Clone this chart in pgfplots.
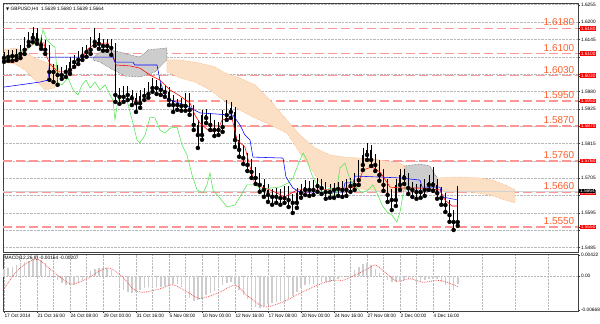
\documentclass[border=0pt]{standalone}
\usepackage{fontspec}
\setmainfont{Liberation Sans}
\newfontfamily\dejavu{DejaVu Sans}
\usepackage{pgfplots}
\usepackage{pgfplotstable}
\pgfplotsset{compat=1.18}
\definecolor{lvl}{RGB}{255,150,150}
\definecolor{lvltxt}{RGB}{255,95,45}
\definecolor{sandy}{RGB}{244,164,96}
\definecolor{cloudup}{RGB}{252,224,198}
\definecolor{clouddn}{RGB}{205,205,205}
\definecolor{gridc}{RGB}{185,185,185}
\definecolor{chik}{RGB}{80,230,80}
\definecolor{histc}{RGB}{205,205,205}
\definecolor{sigc}{RGB}{240,90,90}

\pgfplotstableread{
x o h l c
0 1.6086 1.6105 1.6074 1.6089
2 1.6089 1.6111 1.6077 1.6096
4 1.6096 1.6111 1.6077 1.6092
6 1.6092 1.6114 1.6080 1.6099
8 1.6099 1.6127 1.6086 1.6112
10 1.6112 1.6152 1.6099 1.6137
12 1.6137 1.6168 1.6125 1.6150
14 1.6150 1.6184 1.6137 1.6165
16 1.6165 1.6181 1.6131 1.6143
18 1.6143 1.6159 1.6115 1.6127
20 1.6127 1.6143 1.6099 1.6112
22 1.6112 1.6127 1.6017 1.6042
24 1.6042 1.6067 1.6010 1.6048
26 1.6048 1.6064 1.6001 1.6032
28 1.6032 1.6057 1.6020 1.6042
30 1.6042 1.6064 1.6026 1.6048
32 1.6048 1.6089 1.6036 1.6073
34 1.6073 1.6095 1.6058 1.6080
36 1.6080 1.6108 1.6067 1.6092
38 1.6092 1.6121 1.6080 1.6105
40 1.6105 1.6127 1.6090 1.6112
42 1.6112 1.6152 1.6099 1.6137
44 1.6137 1.6181 1.6125 1.6150
46 1.6150 1.6165 1.6115 1.6131
48 1.6131 1.6146 1.6109 1.6124
50 1.6124 1.6146 1.6109 1.6131
52 1.6131 1.6146 1.6096 1.6118
54 1.6118 1.6133 1.5947 1.5969
56 1.5969 1.5991 1.5941 1.5963
58 1.5963 1.5997 1.5947 1.5978
60 1.5978 1.5997 1.5953 1.5969
62 1.5969 1.5984 1.5937 1.5959
64 1.5959 1.5975 1.5915 1.5943
66 1.5943 1.5984 1.5928 1.5966
68 1.5966 1.5991 1.5953 1.5972
70 1.5972 1.6010 1.5960 1.5991
72 1.5991 1.6022 1.5979 1.6001
74 1.6001 1.6016 1.5972 1.5991
76 1.5991 1.6007 1.5969 1.5985
78 1.5985 1.6000 1.5963 1.5978
80 1.5978 1.5994 1.5937 1.5953
82 1.5953 1.5969 1.5915 1.5937
84 1.5937 1.5956 1.5922 1.5940
86 1.5940 1.5959 1.5919 1.5934
88 1.5934 1.5975 1.5919 1.5959
90 1.5959 1.5975 1.5906 1.5921
92 1.5921 1.5937 1.5858 1.5874
94 1.5874 1.5889 1.5801 1.5842
96 1.5842 1.5921 1.5827 1.5905
98 1.5905 1.5924 1.5880 1.5896
100 1.5896 1.5911 1.5858 1.5874
102 1.5874 1.5889 1.5839 1.5858
104 1.5858 1.5883 1.5842 1.5867
106 1.5867 1.5921 1.5852 1.5905
108 1.5905 1.5953 1.5890 1.5928
110 1.5928 1.5946 1.5896 1.5915
112 1.5915 1.5931 1.5804 1.5826
114 1.5826 1.5845 1.5773 1.5795
116 1.5795 1.5810 1.5750 1.5769
118 1.5769 1.5785 1.5728 1.5747
120 1.5747 1.5766 1.5706 1.5725
122 1.5725 1.5740 1.5687 1.5706
124 1.5706 1.5721 1.5662 1.5684
126 1.5684 1.5702 1.5646 1.5668
128 1.5668 1.5686 1.5630 1.5652
130 1.5652 1.5671 1.5621 1.5646
132 1.5646 1.5674 1.5627 1.5652
134 1.5652 1.5671 1.5621 1.5642
136 1.5642 1.5680 1.5627 1.5661
138 1.5661 1.5680 1.5614 1.5636
140 1.5636 1.5655 1.5595 1.5627
142 1.5627 1.5674 1.5611 1.5658
144 1.5658 1.5686 1.5643 1.5668
146 1.5668 1.5699 1.5652 1.5677
148 1.5677 1.5696 1.5649 1.5668
150 1.5668 1.5699 1.5652 1.5680
152 1.5680 1.5705 1.5662 1.5684
154 1.5684 1.5702 1.5655 1.5674
156 1.5674 1.5693 1.5640 1.5661
158 1.5661 1.5686 1.5643 1.5668
160 1.5668 1.5690 1.5643 1.5671
162 1.5671 1.5693 1.5649 1.5674
164 1.5674 1.5696 1.5646 1.5668
166 1.5668 1.5702 1.5649 1.5680
168 1.5680 1.5705 1.5662 1.5684
170 1.5684 1.5721 1.5668 1.5699
172 1.5699 1.5762 1.5684 1.5747
174 1.5747 1.5801 1.5731 1.5779
176 1.5779 1.5817 1.5763 1.5795
178 1.5795 1.5810 1.5744 1.5763
180 1.5763 1.5781 1.5728 1.5747
182 1.5747 1.5762 1.5697 1.5715
184 1.5715 1.5734 1.5665 1.5684
186 1.5684 1.5702 1.5630 1.5652
188 1.5652 1.5671 1.5604 1.5636
190 1.5636 1.5702 1.5617 1.5684
192 1.5684 1.5734 1.5668 1.5715
194 1.5715 1.5734 1.5687 1.5706
196 1.5706 1.5721 1.5655 1.5674
198 1.5674 1.5693 1.5646 1.5668
200 1.5668 1.5686 1.5640 1.5661
202 1.5661 1.5686 1.5643 1.5668
204 1.5668 1.5702 1.5649 1.5684
206 1.5684 1.5715 1.5668 1.5693
208 1.5693 1.5741 1.5665 1.5684
210 1.5684 1.5702 1.5640 1.5658
212 1.5658 1.5677 1.5621 1.5642
214 1.5642 1.5658 1.5598 1.5620
216 1.5620 1.5636 1.5567 1.5588
218 1.5588 1.5604 1.5541 1.5566
220 1.5566 1.5680 1.5554 1.5664
}\candles

\pgfplotstableread{
x m
0 0.0015
2 0.0017
4 0.0019
6 0.0022
8 0.0025
10 0.0029
12 0.0031
14 0.0034
16 0.0035
18 0.0032
20 0.0026
22 0.0012
24 0.0002
26 -0.0008
28 -0.0014
30 -0.0017
32 -0.0018
34 -0.0017
36 -0.0013
38 -0.0008
40 0.0000
42 0.0010
44 0.0015
46 0.0016
48 0.0016
50 0.0016
52 0.0012
54 -0.0002
56 -0.0020
58 -0.0027
60 -0.0031
62 -0.0034
64 -0.0032
66 -0.0028
68 -0.0024
70 -0.0022
72 -0.0022
74 -0.0021
76 -0.0021
78 -0.0020
80 -0.0018
82 -0.0015
84 -0.0015
86 -0.0022
88 -0.0033
90 -0.0043
92 -0.0050
94 -0.0048
96 -0.0043
98 -0.0037
100 -0.0034
102 -0.0030
104 -0.0024
106 -0.0017
108 -0.0014
110 -0.0011
112 -0.0015
114 -0.0028
116 -0.0038
118 -0.0045
120 -0.0058
122 -0.0062
124 -0.0063
126 -0.0059
128 -0.0055
130 -0.0053
132 -0.0051
134 -0.0050
136 -0.0048
138 -0.0045
140 -0.0040
142 -0.0032
144 -0.0024
146 -0.0018
148 -0.0016
150 -0.0015
152 -0.0013
154 -0.0012
156 -0.0012
158 -0.0011
160 -0.0010
162 -0.0006
164 -0.0002
166 0.0001
168 0.0007
170 0.0012
172 0.0019
174 0.0024
176 0.0027
178 0.0023
180 0.0015
182 0.0006
184 -0.0002
186 -0.0008
188 -0.0012
190 -0.0011
192 -0.0010
194 -0.0008
196 -0.0005
198 -0.0006
200 -0.0012
202 -0.0011
204 -0.0008
206 -0.0006
208 -0.0005
210 -0.0006
212 -0.0012
214 -0.0018
216 -0.0025
218 -0.0028
220 -0.0016
}\macdhist

\begin{document}
\begin{tikzpicture}
\useasboundingbox (0,0) rectangle (600pt,324pt);
% ---------------- main price panel ----------------
\begin{axis}[
  at={(3pt,72pt)}, anchor=south west, width=575pt, height=249pt, scale only axis,
  xmin=-0.485, xmax=278.3, ymin=1.54712, ymax=1.62605,
  clip=false,
  axis line style={black!75, line width=0.5pt},
  xtick=\empty, minor xtick={0,8,...,272}, minor x tick style={draw=none},
  xminorgrids, ymajorgrids,
  grid style={gridc, densely dotted, line width=0.45pt},
  minor grid style={gridc, densely dotted, line width=0.45pt},
  ytick={1.5485,1.554,1.5595,1.565,1.5705,1.576,1.5815,1.587,1.5925,1.598,1.6035,1.609,1.6145,1.62,1.6255},
  yticklabels={1.5485,,1.5595,,1.5705,,1.5815,,1.5925,1.5980,,,1.6145,1.6200,1.6255},
  ytick pos=right, yticklabel pos=right, tick align=outside, major tick length=2pt,
  y tick style={black!80, line width=0.4pt},
  yticklabel style={font=\fontsize{4.8}{5}\selectfont, inner sep=0.8pt},
  scaled y ticks=false,
  extra y ticks={1.618,1.61,1.603,1.595,1.587,1.576,1.566,1.555},
  extra y tick labels={1.6180,1.6100,1.6030,1.5950,1.5870,1.5760,1.5660,1.5550},
  extra y tick style={grid=major,
     major grid style={lvl, line width=1.5pt, dash pattern=on 9pt off 4pt},
     yticklabel style={fill=red, text=white, inner sep=0.6pt}},
]
% Ichimoku cloud (Senkou span A / B)
\addplot[fill=cloudup, draw=sandy, densely dotted, line width=0.5pt] coordinates {
(0,1.6112) (5.3,1.6118) (10.2,1.6105) (15,1.6086) (19.9,1.6073) (24.7,1.6064) (27.2,1.6048)
(24.7,1.5991) (19.9,1.5985) (15,1.6016) (10.2,1.6048) (5.3,1.6067) (0,1.6073)} -- cycle;
\addplot[fill=clouddn, draw=black!70, densely dotted, line width=0.5pt] coordinates {
(43.2,1.6086) (46.5,1.6105) (51.4,1.6112) (56.2,1.6105) (61.1,1.6096) (65.9,1.6089) (69.8,1.6112) (79,1.6118)
(79,1.6080) (73.2,1.6042) (65.9,1.6026) (58.7,1.6029) (51.4,1.6054) (46.5,1.6073) (43.2,1.6080)} -- cycle;
\addplot[fill=cloudup, draw=sandy, densely dotted, line width=0.5pt] coordinates {
(79,1.6080) (85.3,1.6080) (95,1.6070) (102.3,1.6058) (107.2,1.6039) (114.4,1.6023) (121.7,1.6001) (129,1.5953)
(136.2,1.5896) (143.5,1.5842) (150.8,1.5801) (158.1,1.5779) (165.3,1.5772) (172.6,1.5769) (182.3,1.5763) (192,1.5753) (194.4,1.5744)
(194.4,1.5668) (187.2,1.5661) (177.5,1.5668) (167.8,1.5674) (160.5,1.5674) (155.6,1.5680) (153.2,1.5690) (148.4,1.5741)
(143.5,1.5785) (137.2,1.5848) (129,1.5874) (120.7,1.5899) (114.4,1.5921) (106.2,1.5953) (99.9,1.5985) (92.6,1.6010) (85.3,1.6023) (79,1.6042)} -- cycle;
\addplot[fill=clouddn, draw=black!70, densely dotted, line width=0.5pt] coordinates {
(194.4,1.5744) (197.8,1.5747) (201.7,1.5750) (206.5,1.5744) (210,1.5706)
(210,1.5668) (201.7,1.5661) (194.4,1.5668)} -- cycle;
\addplot[fill=cloudup, draw=sandy, densely dotted, line width=0.5pt] coordinates {
(210,1.5706) (221.1,1.5709) (230.8,1.5706) (237.1,1.5699) (242.9,1.5684) (247.8,1.5668)
(247.8,1.5627) (242.9,1.5636) (235.6,1.5652) (225.9,1.5661) (216.2,1.5661) (210,1.5668)} -- cycle;
% bid line
\addplot[gray!35, line width=0.5pt] coordinates {(-0.485,1.5664) (278.3,1.5664)};
% candles: wicks and bodies
\addplot[only marks, mark=none, error bars/.cd, y dir=plus, y explicit, error mark=none,
  error bar style={draw=black, line width=0.7pt}]
  table[x=x, y=l, y error plus expr={\thisrow{h}-\thisrow{l}}] {\candles};
\addplot[only marks, mark=none, error bars/.cd, y dir=plus, y explicit, error mark=none,
  error bar style={draw=black, line width=1.4pt}]
  table[x=x, y expr={min(\thisrow{o},\thisrow{c})}, y error plus expr={abs(\thisrow{c}-\thisrow{o})}] {\candles};
% Tenkan-sen
\addplot[red, line width=0.55pt] coordinates {
(0,1.6073) (5.3,1.6073) (8.7,1.6096) (11.6,1.6121) (15.5,1.6134) (19.4,1.6134) (20.4,1.6096) (22.3,1.6067)
(26.2,1.6042) (31,1.6042) (34.4,1.6058) (37.8,1.6086) (40.7,1.6115) (44.1,1.6131) (50.4,1.6134) (52.8,1.6096)
(54.3,1.6064) (61.1,1.6061) (65.9,1.6054) (70.8,1.6032) (75.6,1.6016) (80.5,1.5985) (85.3,1.5966) (90.2,1.5943)
(92.6,1.5905) (95,1.5880) (99.9,1.5852) (103.8,1.5858) (105.7,1.5890) (110.5,1.5896) (113,1.5826) (116.8,1.5804)
(119.3,1.5741) (121.7,1.5684) (129,1.5668) (136.2,1.5646) (142.1,1.5668) (153.2,1.5668) (165.3,1.5674) (171.2,1.5677)
(174.1,1.5731) (178.4,1.5741) (182.3,1.5725) (187.2,1.5677) (192,1.5674) (201.7,1.5674) (211.4,1.5668) (213.8,1.5636)
(217.2,1.5617) (220,1.5617)};
% Kijun-sen
\addplot[blue, line width=0.55pt] coordinates {
(0,1.5994) (7.8,1.6001) (17.5,1.6010) (21.3,1.6016) (22.3,1.6089) (52.8,1.6089) (53.8,1.6073) (62.5,1.6073)
(63.5,1.6064) (74.2,1.6064) (75.6,1.6016) (78.1,1.5963) (80.5,1.5953) (87.8,1.5937) (95,1.5912) (111,1.5905)
(114.4,1.5874) (116.8,1.5842) (119.3,1.5826) (120.7,1.5772) (135.3,1.5769) (136.7,1.5709) (140.1,1.5674)
(143.5,1.5661) (164.4,1.5661) (165.3,1.5690) (169.2,1.5690) (170.2,1.5712) (192,1.5706) (201.7,1.5699)
(202.7,1.5677) (211.4,1.5677) (212.4,1.5646) (220,1.5636)};
% Chikou span
\addplot[chik, line width=0.55pt] coordinates {
(0,1.6073) (3.9,1.6086) (7.8,1.6105) (11.2,1.6112) (12.6,1.6121) (15,1.6134) (17.5,1.6137) (18.9,1.6175)
(20.8,1.6143) (23.3,1.6127) (24.7,1.6121) (26.2,1.6007) (28.1,1.6001) (31,1.6023) (33.5,1.5985) (35.9,1.5969)
(37.8,1.6001) (39.8,1.6016) (41.7,1.5991) (44.1,1.6010) (46.5,1.5985) (49,1.6001) (51.4,1.5969) (52.8,1.5953)
(53.8,1.5890) (55.3,1.5953) (57.2,1.5969) (59.6,1.5953) (62.1,1.5890) (64.5,1.5826) (65.9,1.5817) (68.4,1.5842)
(70.8,1.5899) (73.2,1.5896) (75.6,1.5858) (78.1,1.5848) (80.5,1.5864) (83.9,1.5867) (86.3,1.5810) (88.7,1.5779)
(91.2,1.5715) (93.6,1.5668) (96.5,1.5658) (98.4,1.5684) (99.9,1.5722) (101.3,1.5668) (104.7,1.5642) (108.1,1.5614)
(112,1.5620) (114.4,1.5646) (117.8,1.5684) (121.7,1.5684) (125.1,1.5668) (129,1.5674) (133.8,1.5677) (137.7,1.5690)
(140.1,1.5706) (143.5,1.5763) (145,1.5785) (146.9,1.5763) (149.3,1.5715) (151.8,1.5684) (154.2,1.5661) (158.1,1.5674)
(160.5,1.5636) (162.9,1.5737) (165.3,1.5753) (167.8,1.5699) (171.2,1.5674) (173.6,1.5658) (176.5,1.5668) (178.9,1.5684)
(181.3,1.5652) (183.3,1.5620) (185.7,1.5598) (188.1,1.5588) (190.5,1.5566) (192,1.5598) (194,1.5674)};
% level captions
\addplot[only marks, mark=none, nodes near coords, point meta=explicit symbolic,
  every node near coord/.append style={anchor=south east, font=\fontsize{10}{10}\selectfont, text=lvltxt, inner sep=0pt, yshift=2.2pt}]
  table[x=x, y=y, meta=lab] {
x y lab
276.6 1.6180 1.6180
276.6 1.6100 1.6100
276.6 1.6030 1.6030
276.6 1.5950 1.5950
276.6 1.5870 1.5870
276.6 1.5760 1.5760
276.6 1.5660 1.5660
276.6 1.5550 1.5550
};
% current price tag
\addplot[only marks, mark=none, nodes near coords, point meta=explicit symbolic,
  every node near coord/.append style={anchor=west, font=\fontsize{4.8}{5}\selectfont, fill=black, text=white, inner sep=0.6pt, xshift=1.2pt}]
  table[x=x, y=y, meta=lab] {
x y lab
278.3 1.5664 1.5664
};
\node[anchor=north west, font=\fontsize{4.8}{5}\selectfont, inner sep=0pt] at (rel axis cs:0,1) [xshift=3pt, yshift=-3.5pt] {{\dejavu\fontsize{4}{4}\selectfont ▼}\ GBPUSD,H4\ \ 1.5639 1.5680 1.5639 1.5664};
\end{axis}
% ---------------- MACD panel ----------------
\begin{axis}[
  at={(3pt,13pt)}, anchor=south west, width=575pt, height=57pt, scale only axis,
  xmin=-0.485, xmax=278.3, ymin=-0.0069, ymax=0.0044,
  clip=false,
  axis line style={black!75, line width=0.5pt},
  xtick={0,16,...,208}, minor xtick={8,24,...,272},
  xticklabels={17 Oct 2014,21 Oct 16:00,24 Oct 08:00,29 Oct 00:00,31 Oct 16:00,5 Nov 08:00,10 Nov 00:00,12 Nov 16:00,17 Nov 08:00,20 Nov 00:00,24 Nov 16:00,27 Nov 08:00,2 Dec 00:00,4 Dec 16:00},
  xtick pos=bottom, tick align=outside, major tick length=2pt, minor tick length=0pt,
  x tick style={black!80, line width=0.4pt},
  xticklabel style={anchor=north west, font=\fontsize{4.8}{5}\selectfont, inner sep=0.8pt, xshift=-0.5pt},
  xmajorgrids, xminorgrids,
  grid style={gridc, densely dotted, line width=0.45pt},
  minor grid style={gridc, densely dotted, line width=0.45pt},
  ytick={-0.00668,0.00422}, yticklabels={-0.00668,0.00422},
  ytick pos=right, yticklabel pos=right, scaled y ticks=false,
  y tick style={black!80, line width=0.4pt},
  yticklabel style={font=\fontsize{4.8}{5}\selectfont, inner sep=0.8pt},
  extra y ticks={0}, extra y tick labels={0.00},
  extra y tick style={grid=major, major grid style={gridc, densely dotted, line width=0.45pt}},
]
\addplot[ycomb, draw=histc, line width=1.5pt] table[x=x, y=m] {\macdhist};
\addplot[sigc, densely dotted, line width=0.8pt, smooth] coordinates {
(0,-0.0025) (4.4,0.0001) (9.2,0.0021) (16,0.0034) (22.3,0.0014) (27.2,-0.0002) (30.5,-0.0012) (33.5,-0.0016)
(40.2,-0.0005) (46.5,0.0011) (51.4,0.0016) (57.7,-0.0002) (62.5,-0.0025) (67.4,-0.0032) (75.6,-0.0025) (82,-0.0017)
(88.7,-0.0031) (95,-0.0044) (103.3,-0.0034) (112,-0.0018) (117.8,-0.0038) (124.1,-0.0057) (127.5,-0.0061)
(135.3,-0.0051) (143.5,-0.0034) (151.8,-0.0018) (159.5,-0.0008) (164.4,-0.0008) (169.2,0.0) (176,0.0014)
(179.9,0.0022) (183.8,0.0011) (190.5,-0.0010) (196.8,-0.0005) (203.2,-0.0012) (210,-0.0008) (214.8,-0.0012)
(220,-0.00207)};
\node[anchor=north west, font=\fontsize{4.8}{5}\selectfont, inner sep=0pt] at (rel axis cs:0,1) [xshift=1.5pt, yshift=-2pt] {MACD(12,26,9) -0.00164 -0.00207};
\end{axis}
\end{tikzpicture}
\end{document}
